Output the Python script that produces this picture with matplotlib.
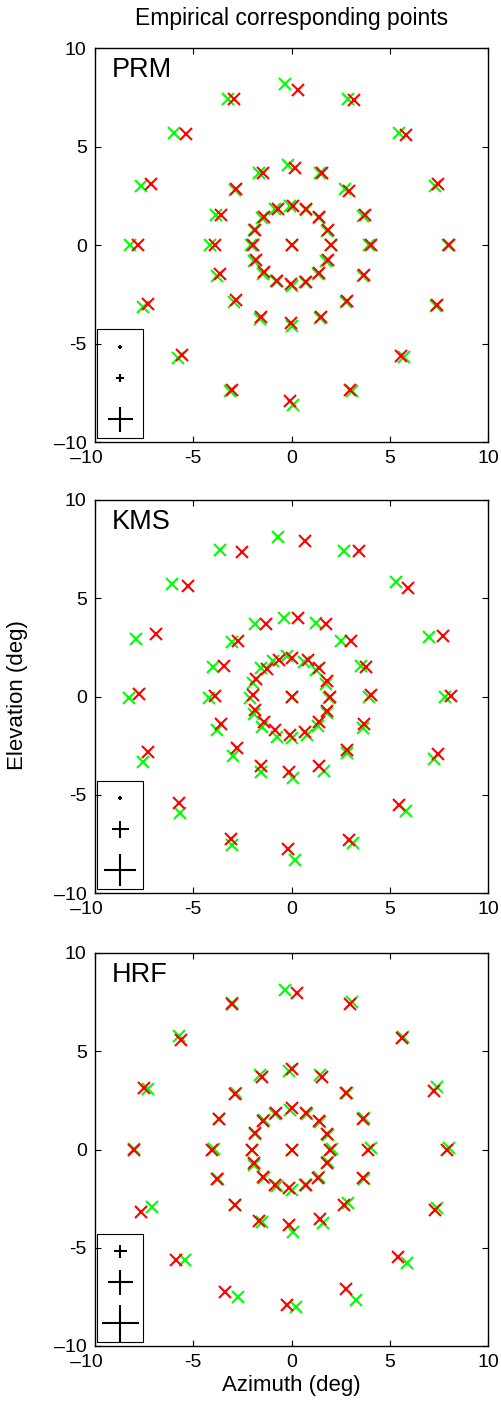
import matplotlib
matplotlib.use("Agg")
import matplotlib.pyplot as plt
import matplotlib.transforms as mtransforms
from matplotlib.patches import Rectangle

plt.rcParams['font.family'] = ['Liberation Sans', 'DejaVu Sans']

panel_names = ["PRM", "KMS", "HRF"]
tick_values = [-10, -5, 0, 5, 10]
tick_labels = ["\u201310", "-5", "0", "5", "10"]

# Points ordered: centre, inner ring (r=2), middle ring (r=4), outer ring (r=8), each ring clockwise from top
prm_green_x = [0,
    -0.09, 0.73, 1.38, 1.82, 1.99, 1.78, 1.35, 0.70, 0.00, -0.79, -1.45, -1.91, -2.08, -1.93, -1.50, -0.86,
    -0.18, 1.47, 2.74, 3.64, 3.94, 3.65, 2.78, 1.47, 0.00, -1.59, -2.94, -3.79, -4.13, -3.82, -2.89, -1.65,
    -0.35, 2.88, 5.45, 7.32, 7.96, 7.37, 5.71, 3.08, 0.06, -3.11, -5.78, -7.56, -8.24, -7.66, -5.96, -3.25]
prm_green_y = [0,
    2.00, 1.79, 1.37, 0.72, 0.00, -0.83, -1.47, -1.90, -2.08, -1.81, -1.46, -0.80, 0.00, 0.76, 1.39, 1.83,
    4.07, 3.68, 2.86, 1.49, 0.00, -1.57, -2.88, -3.73, -4.12, -3.75, -2.88, -1.58, 0.00, 1.51, 2.80, 3.64,
    8.17, 7.41, 5.71, 3.02, 0.00, -3.10, -5.69, -7.41, -8.12, -7.42, -5.76, -3.14, 0.00, 3.02, 5.68, 7.41]
prm_red_x = [0,
    0.06, 0.75, 1.40, 1.84, 2.01, 1.84, 1.40, 0.75, -0.03, -0.74, -1.42, -1.81, -1.96, -1.86, -1.40, -0.70,
    0.16, 1.55, 2.91, 3.72, 4.05, 3.67, 2.82, 1.52, -0.03, -1.54, -2.81, -3.62, -3.91, -3.59, -2.81, -1.45,
    0.33, 3.20, 5.83, 7.44, 8.02, 7.40, 5.59, 2.99, -0.09, -3.03, -5.59, -7.29, -7.81, -7.13, -5.39, -2.91]
prm_red_y = [0,
    2.00, 1.81, 1.41, 0.76, 0.00, -0.76, -1.41, -1.86, -1.98, -1.83, -1.39, -0.76, 0.00, 0.76, 1.44, 1.83,
    3.93, 3.68, 2.76, 1.53, 0.00, -1.53, -2.83, -3.68, -3.98, -3.64, -2.81, -1.47, 0.00, 1.53, 2.83, 3.68,
    7.85, 7.36, 5.56, 3.12, 0.00, -3.07, -5.63, -7.37, -7.92, -7.34, -5.56, -3.00, 0.00, 3.10, 5.63, 7.41]

kms_green_x = [0,
    -0.24, 0.64, 1.27, 1.75, 1.92, 1.80, 1.37, 0.80, 0.05, -0.76, -1.51, -1.92, -2.10, -1.95, -1.56, -0.93,
    -0.37, 1.25, 2.54, 3.53, 3.92, 3.63, 2.80, 1.66, 0.08, -1.53, -2.97, -3.81, -4.19, -3.98, -3.02, -1.85,
    -0.69, 2.66, 5.34, 7.02, 7.80, 7.25, 5.81, 3.14, 0.17, -3.03, -5.66, -7.58, -8.25, -7.92, -6.08, -3.63]
kms_green_y = [0,
    2.05, 1.77, 1.34, 0.66, -0.10, -0.83, -1.51, -1.94, -2.11, -2.05, -1.55, -0.87, -0.10, 0.71, 1.43, 1.82,
    4.01, 3.72, 2.82, 1.54, -0.05, -1.61, -2.87, -3.80, -4.13, -3.84, -3.02, -1.68, -0.07, 1.48, 2.78, 3.68,
    8.10, 7.39, 5.84, 3.04, -0.05, -3.17, -5.84, -7.45, -8.30, -7.57, -5.91, -3.33, -0.10, 2.95, 5.70, 7.44]
kms_red_x = [0,
    0.05, 0.83, 1.42, 1.83, 1.97, 1.83, 1.39, 0.71, -0.08, -0.83, -1.42, -1.85, -1.95, -1.81, -1.27, -0.63,
    0.31, 1.76, 3.05, 3.80, 4.03, 3.69, 2.80, 1.39, -0.12, -1.56, -2.75, -3.59, -3.88, -3.42, -2.71, -1.31,
    0.69, 3.44, 5.95, 7.73, 8.10, 7.46, 5.47, 2.95, -0.17, -3.08, -5.71, -7.29, -7.78, -6.90, -5.27, -2.53]
kms_red_y = [0,
    1.97, 1.85, 1.43, 0.80, 0.00, -0.73, -1.32, -1.83, -1.97, -1.68, -1.29, -0.70, 0.08, 0.88, 1.39, 1.88,
    4.02, 3.68, 2.84, 1.49, 0.08, -1.41, -2.73, -3.55, -3.84, -3.55, -2.63, -1.38, 0.05, 1.56, 2.84, 3.68,
    7.91, 7.42, 5.50, 3.07, 0.05, -2.94, -5.50, -7.32, -7.74, -7.25, -5.40, -2.80, 0.12, 3.17, 5.62, 7.35]

hrf_green_x = [0,
    -0.06, 0.78, 1.46, 1.85, 2.05, 1.85, 1.39, 0.70, 0.00, -0.74, -1.41, -1.89, -2.00, -1.84, -1.42, -0.85,
    -0.14, 1.46, 2.81, 3.71, 4.05, 3.69, 2.86, 1.58, 0.08, -1.50, -2.86, -3.73, -3.92, -3.68, -2.80, -1.58,
    -0.31, 3.07, 5.65, 7.43, 8.00, 7.38, 5.88, 3.26, 0.23, -2.73, -5.44, -7.11, -8.02, -7.28, -5.72, -3.05]
hrf_green_y = [0,
    2.02, 1.82, 1.38, 0.75, 0.03, -0.65, -1.38, -1.83, -2.05, -1.85, -1.43, -0.78, 0.00, 0.80, 1.48, 1.82,
    3.97, 3.77, 2.85, 1.60, 0.07, -1.51, -2.73, -3.75, -4.18, -3.67, -2.80, -1.51, 0.03, 1.57, 2.90, 3.80,
    8.10, 7.49, 5.72, 3.17, 0.07, -2.99, -5.79, -7.66, -8.01, -7.49, -5.62, -2.92, 0.02, 3.07, 5.79, 7.45]
hrf_red_x = [0,
    0.03, 0.75, 1.38, 1.80, 1.94, 1.80, 1.34, 0.75, -0.11, -0.82, -1.45, -1.92, -2.00, -1.87, -1.45, -0.77,
    0.03, 1.55, 2.79, 3.63, 3.87, 3.66, 2.67, 1.43, -0.11, -1.63, -2.88, -3.81, -4.07, -3.70, -2.85, -1.50,
    0.28, 3.00, 5.64, 7.24, 7.89, 7.28, 5.40, 2.76, -0.23, -3.39, -5.86, -7.67, -8.04, -7.53, -5.60, -3.02]
hrf_red_y = [0,
    2.09, 1.88, 1.43, 0.80, 0.00, -0.70, -1.43, -1.80, -1.97, -1.80, -1.38, -0.70, 0.00, 0.83, 1.43, 1.88,
    4.09, 3.68, 2.87, 1.55, -0.02, -1.46, -2.82, -3.55, -3.84, -3.63, -2.82, -1.51, 0.00, 1.55, 2.84, 3.68,
    7.96, 7.40, 5.67, 3.00, -0.02, -3.07, -5.48, -7.10, -7.93, -7.23, -5.62, -3.16, 0.00, 3.12, 5.59, 7.40]

# Scale-legend marker sizes (pixels) for each panel
prm_scale_sizes = [4, 8, 25]
kms_scale_sizes = [5, 17, 32]
hrf_scale_sizes = [13, 25, 37]

panels = [
    (prm_green_x, prm_green_y, prm_red_x, prm_red_y, prm_scale_sizes),
    (kms_green_x, kms_green_y, kms_red_x, kms_red_y, kms_scale_sizes),
    (hrf_green_x, hrf_green_y, hrf_red_x, hrf_red_y, hrf_scale_sizes),
]

W, H = 501, 1404
fig = plt.figure(figsize=(W / 100, H / 100), dpi=100)
fig.patch.set_facecolor('white')

axes_px = [(95, 48, 393, 394), (95, 500, 393, 393), (95, 953, 393, 393)]
px2pt = 72 / 100

for i, ((gx, gy, rx, ry, ssz), (l, t, w, h)) in enumerate(zip(panels, axes_px)):
    ax = fig.add_axes([l / W, 1 - (t + h) / H, w / W, h / H])
    ax.plot(gx, gy, linestyle='none', marker='x', color=(0, 1, 0), markersize=8, markeredgewidth=1.5)
    ax.plot(rx, ry, linestyle='none', marker='x', color=(1, 0, 0), markersize=8, markeredgewidth=1.5)
    ax.set_xlim(-10, 10)
    ax.set_ylim(-10, 10)
    ax.set_xticks(tick_values)
    ax.set_xticklabels(tick_labels)
    ax.set_yticks(tick_values)
    ax.set_yticklabels(tick_labels)
    ax.tick_params(direction='in', top=True, right=True, length=4, width=0.8, labelsize=14, pad=6)
    # MATLAB-style offset of the leftmost x tick label
    lab0 = ax.get_xticklabels()[0]
    lab0.set_transform(lab0.get_transform() + mtransforms.ScaledTranslation(-9 / 100, 0, fig.dpi_scale_trans))
    for s in ax.spines.values():
        s.set_linewidth(1.0)
    ax.text(0.042, 0.978, panel_names[i], transform=ax.transAxes, ha='left', va='top', fontsize=19.5)
    # scale legend box
    ax.add_patch(Rectangle((0.006, 0.009), 0.115, 0.277, transform=ax.transAxes,
                           fill=False, edgecolor='black', linewidth=0.8, zorder=5))
    for yy, sz in zip([0.242, 0.163, 0.058], ssz):
        ax.plot([0.064], [yy], transform=ax.transAxes, marker='+', color='black',
                markersize=sz * px2pt, markeredgewidth=1.5, linestyle='none', zorder=6)
    if i == 2:
        ax.set_xlabel('Azimuth (deg)', fontsize=16, labelpad=3)

fig.text((95 + 393 / 2) / W, 1 - 18 / H, 'Empirical corresponding points', ha='center', va='center', fontsize=16.5)
fig.text(18 / W, 1 - 695 / H, 'Elevation (deg)', rotation=90, ha='center', va='center', fontsize=16)

fig.savefig('out.png', dpi=100, facecolor='white')
